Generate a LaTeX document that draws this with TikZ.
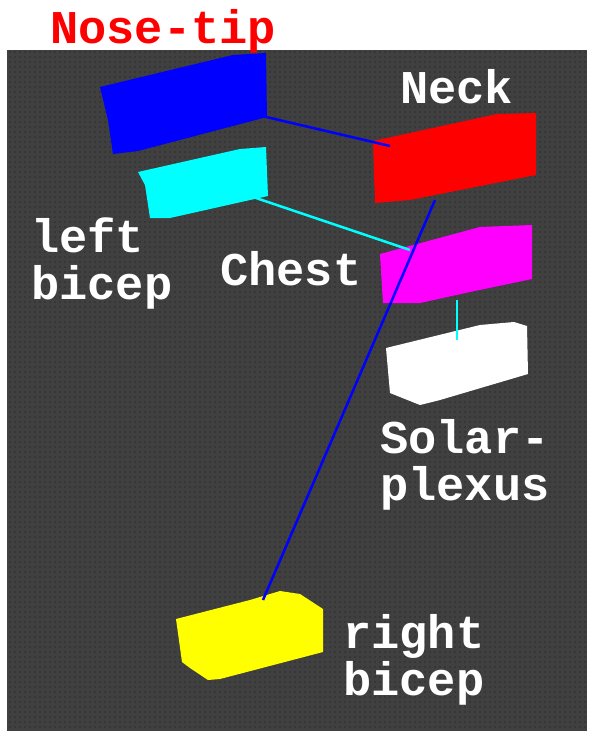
\documentclass[tikz,border=0pt]{standalone}
\usepackage{fontspec}
\setmonofont{Liberation Mono}
\usetikzlibrary{positioning}

\definecolor{bgdark}{HTML}{404040}
\definecolor{bgdot}{HTML}{363636}
\definecolor{nosecol}{HTML}{0000FF}
\definecolor{neckcol}{HTML}{FF0000}
\definecolor{bicepcol}{HTML}{00FFFF}
\definecolor{chestcol}{HTML}{FF00FF}
\definecolor{rbicepcol}{HTML}{FFFF00}

\begin{document}
\begin{tikzpicture}[x=1pt, y=-1pt,
  partlabel/.style={font=\ttfamily\bfseries\fontsize{47}{47}\selectfont, text=white, inner sep=0pt, align=left},
  link/.style={line width=2.5pt},
]
\useasboundingbox (0,0) rectangle (589,731);

% background with dotted raster
\fill[bgdark] (7,50) rectangle (587,731);
\foreach \y in {52,57,...,729}
  \draw[bgdot, line width=2pt, dash pattern=on 2pt off 3pt] (9,\y) -- (587,\y);

% body parts
\fill[nosecol] (100,87) -- (233,55) -- (266,53) -- (267,117) -- (138,151) -- (113,154) -- (108,120) -- cycle;
\fill[neckcol] (373,141) -- (497,114) -- (536,113) -- (536,175) -- (410,200) -- (375,203) -- cycle;
\fill[bicepcol] (138,172) -- (240,149) -- (266,147) -- (268,196) -- (170,218) -- (150,218) -- (145,185) -- cycle;
\fill[chestcol] (380,254) -- (480,227) -- (532,225) -- (532,279) -- (470,292) -- (420,303) -- (383,303) -- cycle;
\fill[white] (386,348) -- (480,325) -- (514,322) -- (527,326) -- (528,374) -- (440,400) -- (420,405) -- (390,393) -- cycle;
\fill[rbicepcol] (176,619) -- (250,600) -- (280,591) -- (300,594) -- (323,609) -- (323,652) -- (220,679) -- (208,680) -- (190,668) -- (182,662) -- cycle;

% joints
\coordinate (nose) at (262,116);
\coordinate (neck) at (390,146);
\coordinate (neckb) at (435,200);
\coordinate (lbicep) at (256,198);
\coordinate (chest) at (410,250);
\coordinate (chestb) at (457,300);
\coordinate (solar) at (457,340);
\coordinate (rbicep) at (263,600);

% skeleton links
\draw[link, nosecol] (nose) -- (neck);
\draw[link, bicepcol] (lbicep) -- (chest);
\draw[link, bicepcol] (chestb) -- (solar);
\draw[link, nosecol] (neckb) -- (rbicep);

% labels (base = last line)
\node[partlabel, text=neckcol, anchor=base west] (nosetxt) at (50,43) {Nose-tip};
\node[partlabel, anchor=base west] (necktxt) at (400,103) {Neck};
\node[partlabel, anchor=base west] (lbiceptxt) at (31,299) {left\\bicep};
\node[partlabel, anchor=base west] (chesttxt) at (220,285) {Chest};
\node[partlabel, anchor=base west] (solartxt) at (380,500) {Solar-\\plexus};
\node[partlabel, anchor=base west] (rbiceptxt) at (343,695) {right\\bicep};
\end{tikzpicture}
\end{document}
